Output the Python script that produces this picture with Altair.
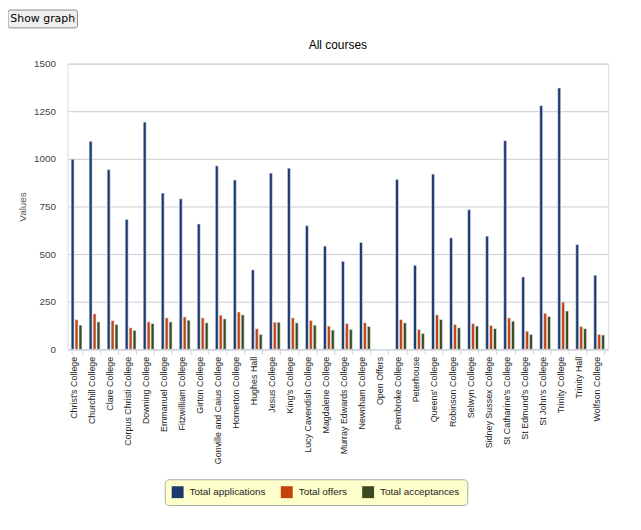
import altair as alt
import pandas as pd

colleges = [
    "Christ's College", "Churchill College", "Clare College", "Corpus Christi College",
    "Downing College", "Emmanuel College", "Fitzwilliam College", "Girton College",
    "Gonville and Caius College", "Homerton College", "Hughes Hall", "Jesus College",
    "King's College", "Lucy Cavendish College", "Magdalene College", "Murray Edwards College",
    "Newnham College", "Open Offers", "Pembroke College", "Peterhouse",
    "Queens' College", "Robinson College", "Selwyn College", "Sidney Sussex College",
    "St Catharine's College", "St Edmund's College", "St John's College", "Trinity College",
    "Trinity Hall", "Wolfson College",
]
applications = [998, 1092, 943, 682, 1193, 820, 790, 658, 963, 889, 417, 925, 951, 649, 542, 462,
                561, 0, 892, 441, 920, 585, 733, 594, 1095, 380, 1279, 1372, 550, 389]
offers = [156, 186, 151, 113, 144, 165, 170, 165, 179, 196, 108, 142, 165, 151, 122, 135,
          139, 0, 156, 104, 181, 130, 135, 125, 165, 95, 189, 248, 120, 78]
acceptances = [127, 144, 130, 99, 135, 144, 153, 139, 160, 181, 78, 142, 139, 127, 101, 104,
               120, 0, 139, 83, 156, 113, 122, 109, 148, 78, 172, 201, 108, 75]
series = ["Total applications", "Total offers", "Total acceptances"]
colors = ["#1c3a6e", "#c4420e", "#3b4a22"]
y_ticks = [0, 250, 500, 750, 1000, 1250, 1500]
chart_title = "All courses"
button_label = "Show graph"

rows = []
for i, c in enumerate(colleges):
    for s, vals in zip(series, [applications, offers, acceptances]):
        rows.append({"college": c, "series": s, "value": vals[i]})
df = pd.DataFrame(rows)

FONT = "Liberation Sans"

bars = alt.Chart(df).mark_bar(stroke="#e4ecf5", strokeWidth=0.6).encode(
    x=alt.X(
        "college:N", sort=colleges,
        scale=alt.Scale(paddingInner=0.4, paddingOuter=0.2),
        axis=alt.Axis(
            title=None, labelAngle=-90, labelAlign="right", labelBaseline="middle",
            labelFont=FONT, labelFontSize=9, labelColor="#222222", labelOffset=-3,
            tickBand="extent", tickColor="#c8d4e0", tickSize=5, labelPadding=2,
            domainColor="#c8d4e0", grid=False, labelOverlap=False,
        ),
    ),
    xOffset=alt.XOffset("series:N", sort=series, scale=alt.Scale(paddingInner=0.25)),
    y=alt.Y(
        "value:Q", scale=alt.Scale(domain=[0, 1500], nice=False),
        axis=alt.Axis(
            values=y_ticks, format="d", title="Values", titleFont=FONT, titleFontSize=10,
            titleFontWeight="normal", titleColor="#555555", titleAngle=-90,
            titleX=-45, titleY=144, titleAlign="center", titleBaseline="middle",
            labelFont=FONT, labelFontSize=10, labelColor="#444444", labelPadding=12,
            ticks=False, domain=False, gridColor="#cccccc", gridWidth=1,
        ),
    ),
    color=alt.Color(
        "series:N", sort=series,
        scale=alt.Scale(domain=series, range=colors),
        legend=alt.Legend(
            title=None, orient="none", legendX=98, legendY=419, direction="horizontal",
            fillColor="#ffffcc", strokeColor="#aaaaaa", cornerRadius=4, padding=7,
            symbolType="square", symbolSize=144, symbolStrokeWidth=0,
            labelFont=FONT, labelFontSize=10, labelColor="#222222",
            columnPadding=15, labelOffset=6,
        ),
    ),
)

title_df = pd.DataFrame({"label": [chart_title]})
title_text = alt.Chart(title_df).mark_text(
    font=FONT, fontSize=12, color="#000000", align="center", baseline="middle"
).encode(x=alt.value(272.5), y=alt.value(-19), text="label:N")

btn_df = pd.DataFrame({"label": [button_label]})
btn_rect = alt.Chart(btn_df).mark_rect(
    fill="#efefef", stroke="#8a8a8a", strokeWidth=1, cornerRadius=2
).encode(x=alt.value(-60), x2=alt.value(10), y=alt.value(-54), y2=alt.value(-36))
btn_text = alt.Chart(btn_df).mark_text(
    font="DejaVu Sans", fontSize=11, color="#000000", align="center", baseline="middle"
).encode(x=alt.value(-25), y=alt.value(-45), text="label:N")

chart = alt.layer(bars, title_text, btn_rect, btn_text).properties(
    width=545, height=288,
    autosize=alt.AutoSizeParams(type="none"),
    padding={"left": 60, "top": 54, "right": 25, "bottom": 170},
).configure_view(stroke=None).configure(font=FONT)

chart.save("out.html", embed_options={"renderer": "svg", "actions": False})
